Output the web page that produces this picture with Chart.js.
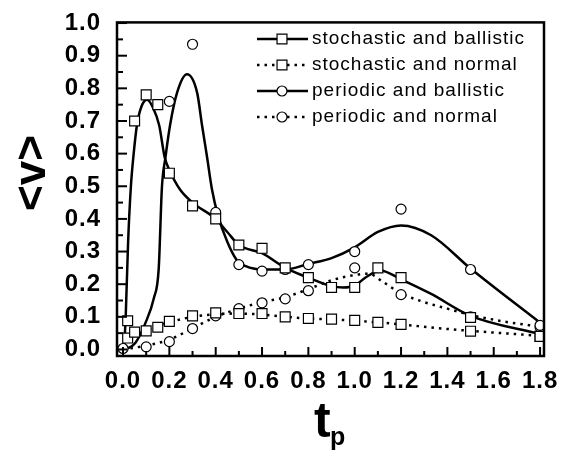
<!DOCTYPE html>
<html>
<head>
<meta charset="utf-8">
<script src="https://cdn.jsdelivr.net/npm/chart.js@4.4.1/dist/chart.umd.min.js"></script>
<style>
  html, body { margin: 0; padding: 0; background: #fff; }
</style>
</head>
<body>
<canvas id="chart" width="573" height="462"></canvas>
<script>
// measured points (markers)
const tpStoch = [0.02, 0.05, 0.1, 0.15, 0.2, 0.3, 0.4, 0.5, 0.6, 0.7, 0.8, 0.9, 1.0, 1.1, 1.2, 1.5, 1.8];
const stochBallistic = [0.088, 0.70, 0.78, 0.75, 0.54, 0.44, 0.40, 0.32, 0.31, 0.25, 0.22, 0.19, 0.19, 0.25, 0.22, 0.098, 0.04];
const stochNormal = [0.035, 0.053, 0.057, 0.068, 0.086, 0.103, 0.112, 0.11, 0.11, 0.10, 0.095, 0.093, 0.089, 0.083, 0.077, 0.056, 0.04];

const tpPerBall = [0.2, 0.3, 0.4, 0.5, 0.6, 0.7, 0.8, 1.0, 1.2, 1.5, 1.8];
const perBallistic = [0.76, 0.935, 0.42, 0.26, 0.24, 0.245, 0.26, 0.30, 0.43, 0.245, 0.074];
const tpPerNorm = [0.0, 0.1, 0.2, 0.3, 0.4, 0.5, 0.6, 0.7, 0.8, 1.0, 1.2, 1.5, 1.8];
const perNormal = [0.003, 0.008, 0.024, 0.064, 0.103, 0.125, 0.143, 0.155, 0.18, 0.25, 0.168, 0.10, 0.068];

// fitted curves
const fitSBx = [0.005, 0.012, 0.022, 0.034, 0.046, 0.06, 0.08, 0.104, 0.13, 0.156, 0.18, 0.2, 0.246, 0.3, 0.4, 0.45, 0.5, 0.6, 0.7, 0.8, 0.9, 0.95, 1.0, 1.05, 1.11, 1.2, 1.33, 1.5, 1.8];
const fitSBy = [0.0, 0.11, 0.33, 0.5, 0.6, 0.687, 0.745, 0.765, 0.74, 0.687, 0.588, 0.55, 0.49, 0.45, 0.40, 0.36, 0.32, 0.295, 0.25, 0.22, 0.194, 0.19, 0.196, 0.222, 0.242, 0.215, 0.17, 0.103, 0.047];

const fitSNx = [0.02, 0.05, 0.1, 0.2, 0.3, 0.4, 0.5, 0.6, 0.7, 0.8, 0.9, 1.0, 1.1, 1.2, 1.35, 1.5, 1.8];
const fitSNy = [0.04, 0.05, 0.06, 0.083, 0.1, 0.108, 0.11, 0.107, 0.1, 0.095, 0.092, 0.088, 0.083, 0.077, 0.066, 0.057, 0.042];

const fitPBx = [0.01, 0.053, 0.096, 0.133, 0.154, 0.168, 0.183, 0.203, 0.233, 0.276, 0.32, 0.341, 0.363, 0.384, 0.41, 0.45, 0.49, 0.53, 0.6, 0.7, 0.8, 0.9, 1.0, 1.1, 1.2, 1.33, 1.5, 1.8];
const fitPBy = [0.0, 0.02, 0.08, 0.157, 0.247, 0.498, 0.588, 0.687, 0.786, 0.843, 0.786, 0.687, 0.588, 0.49, 0.41, 0.33, 0.275, 0.255, 0.245, 0.245, 0.262, 0.28, 0.313, 0.36, 0.38, 0.35, 0.248, 0.082];

const fitPNx = [0.0, 0.1, 0.2, 0.3, 0.4, 0.5, 0.6, 0.7, 0.8, 0.9, 1.0, 1.06, 1.12, 1.2, 1.3, 1.4, 1.5, 1.65, 1.8];
const fitPNy = [0.0, 0.012, 0.03, 0.065, 0.1, 0.125, 0.145, 0.16, 0.185, 0.212, 0.228, 0.232, 0.208, 0.172, 0.145, 0.125, 0.106, 0.085, 0.07];

const xTicks = [0, 0.2, 0.4, 0.6, 0.8, 1.0, 1.2, 1.4, 1.6, 1.8];
const yTicks = [0, 0.1, 0.2, 0.3, 0.4, 0.5, 0.6, 0.7, 0.8, 0.9, 1.0];

const legendItems = [
  { text: 'stochastic and ballistic', style: 'rect', dash: [] },
  { text: 'stochastic and normal', style: 'rect', dash: [2.5, 5] },
  { text: 'periodic and ballistic', style: 'circle', dash: [] },
  { text: 'periodic and normal', style: 'circle', dash: [2.5, 5] }
];

const pts = (xs, ys) => xs.map((x, i) => ({ x: x, y: ys[i] }));
const FONT = '"Liberation Sans", Arial, sans-serif';

function markers(xs, ys, style) {
  return {
    data: pts(xs, ys), showLine: false, order: 0,
    pointStyle: style, pointRadius: style === 'rect' ? 7 : 5,
    pointBackgroundColor: '#fff', pointBorderColor: '#000', pointBorderWidth: 1.2
  };
}
function curve(xs, ys, dash) {
  return {
    data: pts(xs, ys), order: 1, pointRadius: 0,
    borderColor: '#000', borderWidth: 2.5, borderDash: dash,
    cubicInterpolationMode: 'monotone', fill: false
  };
}

const decor = {
  id: 'decor',
  beforeDraw(chart) {
    chart.ctx.letterSpacing = '1px';
  },
  afterDraw(chart) {
    const { ctx, chartArea: a, scales: { x, y } } = chart;
    ctx.save();
    ctx.letterSpacing = '0px';
    ctx.strokeStyle = '#000';
    ctx.fillStyle = '#000';
    ctx.lineWidth = 2.5;
    ctx.strokeRect(a.left, a.top, a.right - a.left, a.bottom - a.top);

    // inward ticks
    ctx.lineWidth = 2;
    for (let i = 0; i <= 18; i++) {
      const px = x.getPixelForValue(i / 10);
      const len = i % 2 === 0 ? 9 : 5;
      ctx.beginPath(); ctx.moveTo(px, a.bottom); ctx.lineTo(px, a.bottom - len); ctx.stroke();
    }
    for (let i = 0; i <= 20; i++) {
      const py = y.getPixelForValue(i / 20);
      const len = i % 2 === 0 ? 10 : 6;
      ctx.beginPath(); ctx.moveTo(a.left, py); ctx.lineTo(a.left + len, py); ctx.stroke();
    }

    // legend
    ctx.font = '19px ' + FONT;
    ctx.letterSpacing = '1px';
    ctx.textBaseline = 'middle';
    legendItems.forEach((it, i) => {
      const ly = 39 + i * 26;
      ctx.setLineDash(it.dash);
      ctx.lineWidth = 2.5;
      ctx.beginPath(); ctx.moveTo(257, ly); ctx.lineTo(308, ly); ctx.stroke();
      ctx.setLineDash([]);
      ctx.fillStyle = '#fff';
      ctx.lineWidth = 1.2;
      Chart.helpers.drawPoint(ctx, { pointStyle: it.style, radius: it.style === 'rect' ? 7 : 5, rotation: 0, borderWidth: 1.2 }, 282, ly);
      ctx.fillStyle = '#000';
      ctx.fillText(it.text, 312, ly);
    });

    // axis titles
    ctx.letterSpacing = '0px';
    ctx.textBaseline = 'alphabetic';
    ctx.font = 'bold 50px ' + FONT;
    ctx.fillText('t', 314, 437);
    ctx.font = 'bold 25px ' + FONT;
    ctx.fillText('p', 330, 445);

    ctx.translate(45, 173);
    ctx.rotate(-Math.PI / 2);
    ctx.font = 'bold 44px ' + FONT;
    ctx.textAlign = 'center';
    ctx.fillText('<v>', 0, 0);
    ctx.restore();
  }
};

Chart.defaults.color = '#000';

new Chart(document.getElementById('chart'), {
  type: 'line',
  data: {
    datasets: [
      markers(tpStoch, stochBallistic, 'rect'),
      markers(tpStoch, stochNormal, 'rect'),
      markers(tpPerBall, perBallistic, 'circle'),
      markers(tpPerNorm, perNormal, 'circle'),
      curve(fitSBx, fitSBy, []),
      curve(fitSNx, fitSNy, [2.5, 5]),
      curve(fitPBx, fitPBy, []),
      curve(fitPNx, fitPNy, [2.5, 5])
    ]
  },
  options: {
    responsive: false,
    animation: false,
    events: [],
    devicePixelRatio: 1,
    layout: { padding: { top: 15, right: 29, left: 0, bottom: 0 } },
    plugins: { legend: { display: false }, tooltip: { enabled: false } },
    scales: {
      x: {
        type: 'linear', min: -0.026, max: 1.817,
        grid: { display: false },
        border: { display: false },
        afterFit: (s) => { s.height = 106; },
        afterBuildTicks: (s) => { s.ticks = xTicks.map(v => ({ value: v })); },
        ticks: { padding: 3, font: { family: FONT, size: 24, weight: 'bold' }, callback: (v) => v.toFixed(1), maxRotation: 0, autoSkip: false }
      },
      y: {
        type: 'linear', min: -0.02, max: 1.002,
        grid: { display: false },
        border: { display: false },
        afterFit: (s) => { s.width = 117; },
        afterBuildTicks: (s) => { s.ticks = yTicks.map(v => ({ value: v })); },
        ticks: { padding: 8, font: { family: FONT, size: 24, weight: 'bold' }, callback: (v) => v.toFixed(1), autoSkip: false }
      }
    }
  },
  plugins: [decor]
});
</script>
</body>
</html>
